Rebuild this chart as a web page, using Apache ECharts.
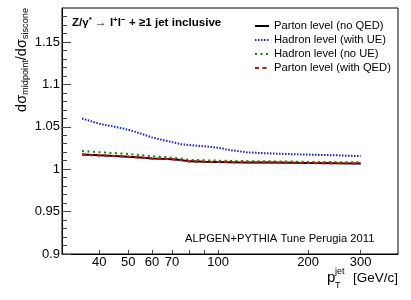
<!DOCTYPE html>
<html>
<head>
<meta charset="utf-8">
<script src="https://cdn.jsdelivr.net/npm/echarts@6/dist/echarts.min.js"></script>
<style>html,body{margin:0;padding:0;background:#fff}#c{width:411px;height:300px}</style>
</head>
<body>
<div id="c"></div>
<script>
const xValues       = [35, 40, 45, 50, 55, 60, 65, 70, 75, 80, 90, 100, 110, 125, 150, 175, 200, 250, 300];
const partonNoQED   = [1.0174, 1.0163, 1.0155, 1.0147, 1.0137, 1.0127, 1.0122, 1.0118, 1.0108, 1.0092, 1.0088, 1.0086, 1.0083, 1.0080, 1.0078, 1.0076, 1.0074, 1.0070, 1.0068];
const hadronWithUE  = [1.0597, 1.0535, 1.0500, 1.0465, 1.0420, 1.0375, 1.0345, 1.0320, 1.0295, 1.0285, 1.0270, 1.0252, 1.0225, 1.0198, 1.0185, 1.0177, 1.0172, 1.0163, 1.0153];
const hadronNoUE    = [1.0214, 1.0200, 1.0190, 1.0180, 1.0165, 1.0152, 1.0145, 1.0135, 1.0125, 1.0110, 1.0105, 1.0100, 1.0097, 1.0095, 1.0092, 1.0090, 1.0086, 1.0083, 1.0080];
const partonWithQED = [1.0172, 1.0162, 1.0154, 1.0146, 1.0136, 1.0127, 1.0121, 1.0117, 1.0106, 1.0091, 1.0087, 1.0085, 1.0082, 1.0080, 1.0077, 1.0075, 1.0073, 1.0069, 1.0067];
const seriesNames   = ['Parton level (no QED)', 'Hadron level (with UE)', 'Hadron level (no UE)', 'Parton level (with QED)'];
const xTickLabels   = [40, 50, 60, 70, 100, 200, 300];
const xTicks        = [40, 50, 60, 70, 80, 90, 100, 200, 300];
const yTickLabels   = [0.9, 0.95, 1, 1.05, 1.1, 1.15];
const yMinorTicks   = [0.91,0.92,0.93,0.94,0.96,0.97,0.98,0.99,1.01,1.02,1.03,1.04,1.06,1.07,1.08,1.09,1.11,1.12,1.13,1.14,1.16,1.17,1.18];

const FONT = 'Liberation Sans, Arial, Helvetica, sans-serif';
const pair = ys => xValues.map((x, i) => [x, ys[i]]);

const styles = [
  {color: '#000000', width: 2, type: 'solid'},
  {color: '#1a1aff', width: 2, type: [1.5, 1.5]},
  {color: '#008a00', width: 2, type: [2, 3.5]},
  {color: '#ee0000', width: 2, type: [4, 3.5]}
];
const datasets = [partonNoQED, hadronWithUE, hadronNoUE, partonWithQED];

const chart = echarts.init(document.getElementById('c'), null, {renderer: 'canvas'});
chart.setOption({
  animation: false,
  backgroundColor: '#fff',
  grid: {left: 62, right: 13, top: 8, bottom: 46, show: true, borderColor: '#000', borderWidth: 1, backgroundColor: 'transparent'},
  xAxis: [{
    type: 'log', logBase: 10, min: 30, max: 400,
    axisLine: {show: true, lineStyle: {color: '#000', width: 1}},
    axisTick: {show: true, inside: true, length: 4, customValues: xTicks, lineStyle: {color: '#444'}},
    axisLabel: {show: true, margin: 2, customValues: xTickLabels, fontSize: 13, fontFamily: FONT, color: '#000',
      formatter: v => String(Math.round(v))},
    splitLine: {show: false}, minorTick: {show: false}
  }],
  yAxis: [{
    type: 'value', min: 0.9, max: 1.19, interval: 0.05,
    axisLine: {show: true, lineStyle: {color: '#000', width: 1}},
    axisTick: {show: true, inside: true, length: 9, customValues: yTickLabels, lineStyle: {color: '#444'}},
    axisLabel: {show: true, margin: 2, customValues: yTickLabels, fontSize: 13, fontFamily: FONT, color: '#000',
      formatter: v => String(+v.toFixed(2))},
    splitLine: {show: false}
  }, {
    type: 'value', min: 0.9, max: 1.19, position: 'left',
    axisLine: {show: false},
    axisTick: {show: true, inside: true, length: 5, customValues: yMinorTicks, lineStyle: {color: '#444'}},
    axisLabel: {show: false},
    splitLine: {show: false}
  }],
  legend: {
    orient: 'vertical', left: 249, top: 14.5, itemWidth: 14, itemHeight: 10, itemGap: 1,
    textStyle: {fontSize: 11.2, fontFamily: FONT, color: '#000', lineHeight: 13},
    itemStyle: {color: 'rgba(0,0,0,0)', borderColor: 'rgba(0,0,0,0)', borderWidth: 0, opacity: 0},
    data: seriesNames.map((n, i) => ({name: n, lineStyle: {width: 2, type: styles[i].type, color: styles[i].color}}))
  },
  series: datasets.map((d, i) => ({
    name: seriesNames[i], type: 'line', xAxisIndex: 0, yAxisIndex: 0,
    data: pair(d), symbol: 'none', showSymbol: false, smooth: false, z: 2 + i,
    lineStyle: {color: styles[i].color, width: styles[i].width, type: styles[i].type},
    itemStyle: {color: styles[i].color}
  })),
  graphic: [
    {type: 'text', x: 22, y: 8, rotation: Math.PI / 2, style: {
      text: '{m|dσ}{s|midpoint}{m|/dσ}{s|siscone}', align: 'right', verticalAlign: 'middle',
      fill: '#000', font: '14.5px ' + FONT,
      rich: {m: {fontSize: 14.5, fontFamily: FONT, fill: '#000'}, s: {fontSize: 9.2, fontFamily: FONT, padding: [7, 0, 0, 0]}}
    }},
    {type: 'text', x: 72, y: 23, style: {
      text: '{b|Z/γ}{p|*}{a| → }{b|l}{p|+}{b|l}{p|−}{b| + ≥1 jet inclusive}', align: 'left', verticalAlign: 'middle',
      fill: '#000',
      rich: {b: {fontSize: 11.6, fontWeight: 'bold', fontFamily: FONT}, a: {fontSize: 11.6, fontFamily: FONT},
             p: {fontSize: 8, fontWeight: 'bold', fontFamily: FONT, padding: [0, 0, 6, 0]}}
    }},
    {type: 'text', x: 185, y: 239, style: {text: 'ALPGEN+PYTHIA Tune Perugia 2011', align: 'left', verticalAlign: 'middle',
      fill: '#000', font: '11.2px ' + FONT}},
    {type: 'text', x: 327, y: 278, style: {text: 'p', align: 'left', verticalAlign: 'middle', fill: '#000', font: '15px ' + FONT}},
    {type: 'text', x: 335, y: 272, style: {text: 'jet', align: 'left', verticalAlign: 'middle', fill: '#000', font: '9px ' + FONT}},
    {type: 'text', x: 335, y: 285.5, style: {text: 'T', align: 'left', verticalAlign: 'middle', fill: '#000', font: '9px ' + FONT}},
    {type: 'text', x: 398, y: 278, style: {text: '[GeV/c]', align: 'right', verticalAlign: 'middle', fill: '#000', font: '13.5px ' + FONT}}
  ]
});
</script>
</body>
</html>
